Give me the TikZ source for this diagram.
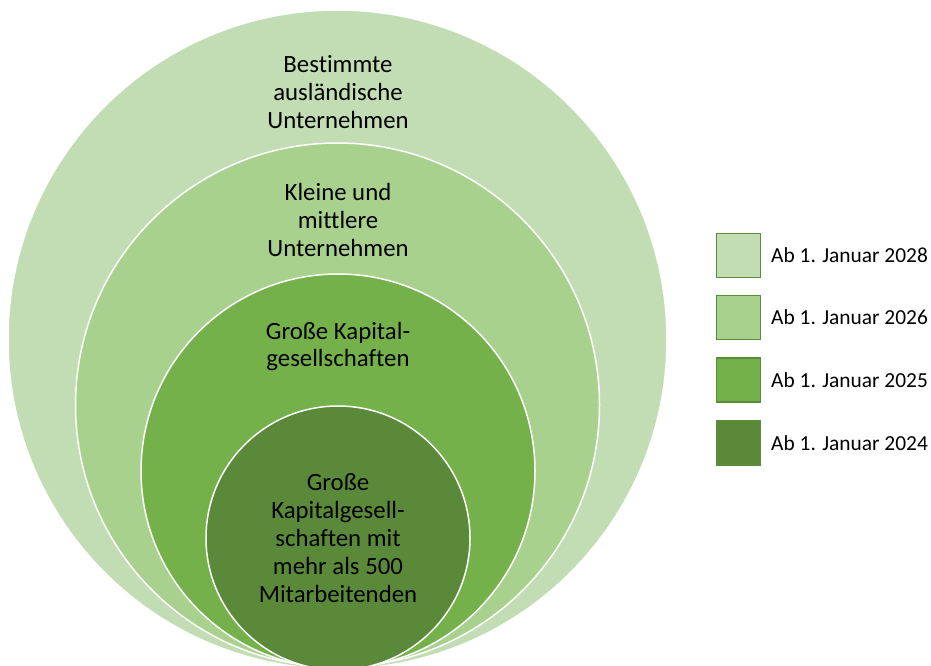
\documentclass[tikz,border=0pt]{standalone}
\usepackage{fontspec}
\setmainfont{Carlito}[Ligatures=NoCommon]
\definecolor{cA}{HTML}{C2DDB3}
\definecolor{cB}{HTML}{A9D18E}
\definecolor{cC}{HTML}{75B14A}
\definecolor{cD}{HTML}{5A8A39}
\definecolor{cEdge}{HTML}{5B8C3C}
\begin{document}
\begin{tikzpicture}[x=1pt,y=-1pt,
  ring/.style={circle, draw=white, line width=1.5pt, inner sep=0pt, minimum size=#1},
  lbl/.style={align=center, font=\fontsize{24.8}{27.8}\selectfont, text=black, inner sep=0pt},
  legbox/.style={draw=cEdge, line width=1.5pt, minimum width=44pt, minimum height=44pt, inner sep=0pt},
  legtxt/.style={anchor=west, font=\fontsize{21.4}{25}\selectfont, text=black, inner sep=0pt}]
\useasboundingbox (0,0) rectangle (931,666);
\begin{scope}
\clip (0,0) rectangle (931,666);
\node[ring=659pt, fill=cA] (c1) at (337.5,339.5) {};
\node[ring=524pt, fill=cB] (c2) at (337.5,405) {};
\node[ring=394pt, fill=cC] (c3) at (338,471) {};
\node[ring=264pt, fill=cD] (c4) at (338,538) {};
\end{scope}
\node[lbl] (t1) at (338,92) {Bestimmte\\ausländische\\Unternehmen};
\node[lbl] (t2) at (338,220) {Kleine und\\mittlere\\Unternehmen};
\node[lbl] (t3) at (338,346.5) {Große Kapital-\\gesellschaften};
\node[lbl] (t4) at (338,538) {Große\\Kapitalgesell-\\schaften mit\\mehr als 500\\Mitarbeitenden};
\node[legbox, fill=cA] (b1) at (738.5,255.5) {};
\node[legbox, fill=cB] (b2) at (738.5,317.5) {};
\node[legbox, fill=cC] (b3) at (738.5,380) {};
\node[legbox, fill=cD] (b4) at (738.5,443) {};
\node[legtxt] (l1) at (771,255.5) {Ab 1. Januar 2028};
\node[legtxt] (l2) at (771,317.5) {Ab 1. Januar 2026};
\node[legtxt] (l3) at (771,380) {Ab 1. Januar 2025};
\node[legtxt] (l4) at (771,443) {Ab 1. Januar 2024};
\end{tikzpicture}
\end{document}
